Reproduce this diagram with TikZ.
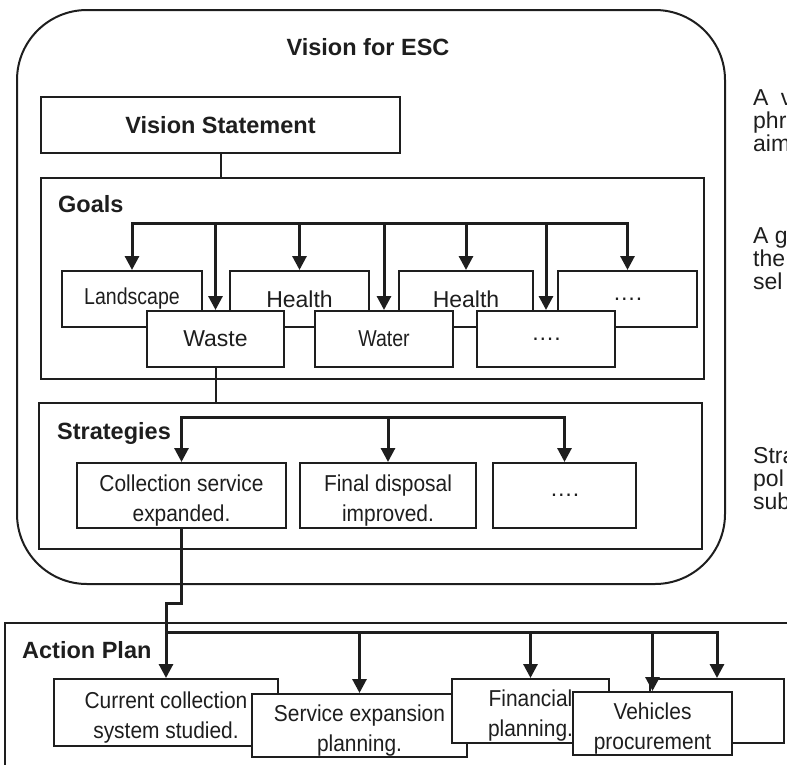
\documentclass[tikz,border=0pt]{standalone}
\usepackage{fontspec}
\setmainfont{Liberation Sans}
\newfontfamily\condA[FakeStretch=0.91]{Liberation Sans}
\newfontfamily\condB[FakeStretch=0.85]{Liberation Sans}
\usetikzlibrary{arrows.meta}
\definecolor{ink}{HTML}{1E1E1E}
\newcommand\boxfont{\fontsize{23}{30}\selectfont}
\newcommand\headfont{\fontsize{23.5}{28}\selectfont\bfseries}
\newcommand\sidefont{\fontsize{23}{23}\selectfont}
\newcommand\tstrut{\rule{0pt}{26pt}}
% \bx[style]{x1}{y1}{x2}{y2}{name}{text}
\newcommand\bx[7][box]{\node[#1, minimum width={(#4-#2)*1pt}, minimum height={(#5-#3)*1pt}] (#6) at ({(#2+#4)/2},{(#3+#5)/2}) {#7};}
\begin{document}
\begin{tikzpicture}[x=1pt,y=-1pt,
  >={Triangle[width=14pt,length=14pt]},
  frame/.style={draw=ink,line width=2pt,inner sep=0pt},
  rframe/.style={frame,rounded corners=70pt},
  box/.style={draw=ink,line width=2pt,fill=white,inner sep=0pt,align=center,text=ink,font=\boxfont},
  cbox/.style={box,font=\boxfont\condA},
  hbox/.style={box,font=\headfont},
  head/.style={text=ink,font=\headfont,inner sep=0pt},
  side/.style={text=ink,font=\sidefont,inner sep=0pt,anchor=base west},
  thin/.style={draw=ink,line width=2pt},
  arr/.style={draw=ink,line width=3pt,->},
  bus/.style={draw=ink,line width=3pt,<->}]
\useasboundingbox (0,0) rectangle (787,764);
\clip (0,0) rectangle (787,764);

% Vision container
\bx[rframe]{17}{10}{725}{584}{esc}{}
\node[head, anchor=base] (esct) at (368,55) {Vision for ESC};
\bx[hbox]{41}{97}{400}{153}{vs}{Vision Statement}

% Goals
\bx[frame]{41}{178}{704}{379}{goals}{}
\node[head, anchor=base west] (goalst) at (58,212) {Goals};
\bx{62}{271}{202}{327}{land}{\condB Landscape}
\bx{230}{271}{369}{327}{health1}{Health}
\bx{399}{271}{533}{327}{health2}{Health}
\bx{558}{271}{697}{327}{gdots1}{….}
\bx{147}{311}{284}{367}{waste}{Waste}
\bx{315}{311}{453}{367}{water}{\condB Water}
\bx{477}{311}{615}{367}{gdots2}{….}

% Strategies
\bx[frame]{39}{403}{702}{549}{strat}{}
\node[head, anchor=base west] (stratt) at (57,439) {Strategies};
\bx[cbox]{77}{463}{286}{528}{coll}{\tstrut Collection service\\expanded.}
\bx[cbox]{300}{463}{476}{528}{fin}{\tstrut Final disposal\\improved.}
\bx{493}{463}{636}{528}{sdots}{….}

% Action plan
\bx[frame]{5}{623}{830}{800}{action}{}
\node[head, anchor=base west] (actiont) at (22,658) {Action Plan};
\bx[cbox]{54}{679}{278}{746}{cur}{\tstrut Current collection\\system studied.}
\bx[cbox]{252}{694}{467}{757}{serv}{\tstrut Service expansion\\planning.}
\bx[cbox]{452}{679}{609}{743}{finp}{\tstrut Financial\\planning.}
\bx{650}{679}{784}{743}{rbox}{}
\bx[cbox]{573}{692}{732}{755}{veh}{\tstrut Vehicles\\procurement}

% side texts
\node[side] (s1a) at (753,105) {A\hspace{6pt} v};
\node[side] (s1b) at (753,128) {phr};
\node[side] (s1c) at (753,151) {aim};
\node[side] (s2a) at (753,243) {A g};
\node[side] (s2b) at (753,266) {the};
\node[side] (s2c) at (753,289) {sel};
\node[side] (s3a) at (753,463) {Stra};
\node[side] (s3b) at (753,486) {pol};
\node[side] (s3c) at (753,509) {sub};

% connectors
\coordinate (gbus) at (0,223);
\coordinate (sbus) at (0,417);
\coordinate (jog) at (0,603);
\coordinate (abus) at (0,632);
\draw[thin] (vs.south) -- (vs.south |- goals.north);
\draw[thin] (waste.south) -- (waste.south |- strat.north);
\draw[bus] (land.north) |- (gdots1.north |- gbus) -- (gdots1.north);
\foreach \n in {waste,health1,water,health2,gdots2}
  \draw[arr] (\n.north |- gbus) -- (\n.north);
\draw[bus] (coll.north) |- (sdots.north |- sbus) -- (sdots.north);
\draw[arr] (fin.north |- sbus) -- (fin.north);
\draw[arr] (coll.south) |- (cur.north |- jog) -- (cur.north);
\draw[arr] (cur.north |- abus) -- (rbox.north |- abus) -- (rbox.north);
\foreach \n in {serv,finp,veh}
  \draw[arr] (\n.north |- abus) -- (\n.north);
\end{tikzpicture}
\end{document}
